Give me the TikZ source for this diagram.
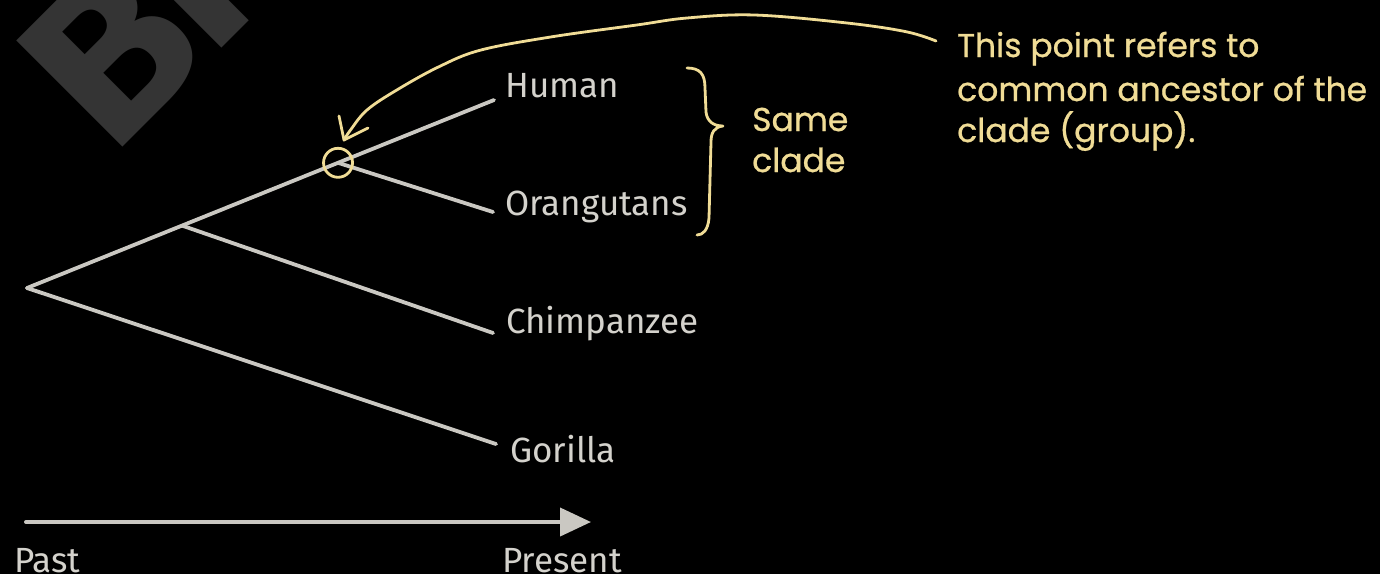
\documentclass[tikz,border=0pt]{standalone}
\usepackage{fontspec}
\setmainfont{Fira Sans}
\newfontfamily\handfont{Poppins}[FakeBold=0.8]
\newfontfamily\markfont{DejaVu Sans}
\usetikzlibrary{arrows.meta,calc}
\definecolor{bg}{RGB}{0,0,0}
\definecolor{branchgray}{RGB}{202,200,194}
\definecolor{labelgray}{RGB}{212,210,204}
\definecolor{hl}{RGB}{240,220,150}
\definecolor{wm}{RGB}{52,52,52}
\begin{document}
\begin{tikzpicture}[x=1pt,y=-1pt,
  branch/.style={draw=branchgray, line width=3.8pt, line cap=round},
  leaf/.style={anchor=base west, inner sep=0pt, text=labelgray, font=\fontsize{35}{42}\selectfont},
  note/.style={anchor=base west, inner sep=0pt, text=hl, font=\handfont\fontsize{33}{41}\selectfont},
  hlline/.style={draw=hl, line width=2.8pt, line cap=round, line join=round},
  wmark/.style={anchor=base west, inner sep=0pt, rotate=45, text=wm, font=\markfont\bfseries\fontsize{206}{206}\selectfont}]
% canvas
\fill[bg] (0,0) rectangle (1380,574);
\useasboundingbox (0,0) rectangle (1380,574);
% background lettering
\begin{scope}
  \clip (0,0) rectangle (1380,574);
  \node[wmark] (wm) at (108.9,161.1) {B\kern-16pt I};
\end{scope}
% tree
\coordinate (root) at (27,288);
\coordinate (hum) at (494,100);
\coordinate (j1) at ($(root)!0.332!(hum)$);
\coordinate (j2) at ($(root)!0.666!(hum)$);
\coordinate (ora) at (493,212);
\coordinate (chi) at (493,333);
\coordinate (gor) at (496,444);
\draw[branch] (root) -- (hum);
\draw[branch] (j2) -- (ora);
\draw[branch] (j1) -- (chi);
\draw[branch] (root) -- (gor);
% leaf labels
\node[leaf] (lhum) at (505,97) {Human};
\node[leaf] (lora) at (505,215) {Orangutans};
\node[leaf] (lchi) at (506,333) {Chimpanzee};
\node[leaf] (lgor) at (510,462) {Gorilla};
% time axis
\coordinate (tstart) at (26,522);
\coordinate (tend) at (591,522);
\draw[draw=branchgray, fill=branchgray, line width=4pt, line cap=round,
  -{Triangle[length=31pt,width=28pt]}] (tstart) -- (tend);
\node[leaf] (past) at (14,572) {Past};
\node[leaf] (present) at (502,572) {Present};
% common ancestor marker
\node[circle, draw=hl, line width=2.8pt, minimum size=29pt, inner sep=0pt] (anc) at (j2) {};
% clade brace
\coordinate (btop) at (687,68);
\coordinate (btip) at (723,126);
\coordinate (bbot) at (697,235);
\draw[hlline] (btop) .. controls (700,68) and (705,74) .. (705,88)
  -- (706,112) .. controls (707,121) and (713,126) .. (btip)
  .. controls (714,127) and (711,133) .. (711,142)
  -- (709,218) .. controls (708,230) and (703,235) .. (bbot);
\node[note] (same1) at (752,131) {Same};
\node[note] (same2) at (752,172) {clade};
% annotation
\node[note] (note1) at (957,57) {This point refers to};
\node[note] (note2) at (957,101) {common ancestor of the};
\node[note] (note3) at (957,142) {clade (group).};
\coordinate (cstart) at (936,41);
\coordinate (ctip) at (344,140);
\draw[hlline] plot[smooth, tension=0.6] coordinates {(cstart) (906,31.7) (847,23) (754.5,15) (687,18) (636.7,25) (552.5,36.7) (481,50) (439,66.7) (396.8,90) (367,110) (350.5,130) (ctip)};
\draw[hlline] (339,116) -- (ctip) -- (368,128);
\end{tikzpicture}
\end{document}
